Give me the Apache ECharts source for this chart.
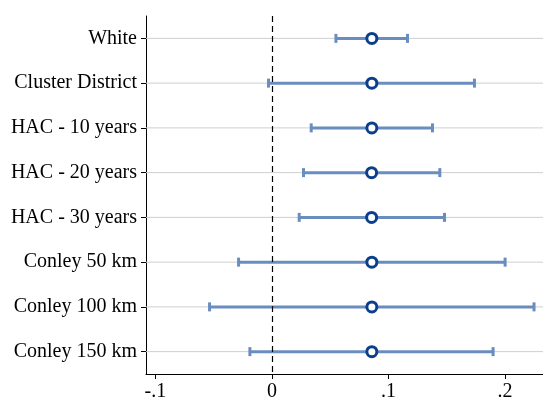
<!DOCTYPE html>
<html>
<head>
<meta charset="utf-8">
<script src="https://cdn.jsdelivr.net/npm/echarts@6/dist/echarts.min.js"></script>
<style>html,body{margin:0;padding:0;background:#fff}#c{width:543px;height:402px}</style>
</head>
<body>
<div id="c"></div>
<script>
const categories = ['White','Cluster District','HAC - 10 years','HAC - 20 years','HAC - 30 years','Conley 50 km','Conley 100 km','Conley 150 km'];
const estimates = [0.0857,0.0857,0.0857,0.0855,0.0855,0.0857,0.0857,0.0857];
const lowerCI = [0.0549,-0.0029,0.0337,0.0271,0.0234,-0.0286,-0.0535,-0.0189];
const upperCI = [0.1163,0.1737,0.1377,0.1440,0.1480,0.2000,0.2248,0.1897];
const xTicks = [-0.1,0,0.1,0.2];
const xTickLabels = ['-.1','0','.1','.2'];

const chart = echarts.init(document.getElementById('c'), null, {renderer:'canvas'});
const font = 'Liberation Serif';
const ciData = categories.map((c,i)=>[lowerCI[i], upperCI[i], i]);
const ptData = categories.map((c,i)=>[estimates[i], i]);

chart.setOption({
  animation:false,
  grid:{left:146, right:0, top:16, bottom:28, containLabel:false},
  xAxis:{
    type:'value', min:-0.108, max:0.2325,
    axisLine:{show:true, onZero:false, lineStyle:{color:'#000', width:1}},
    axisTick:{show:true, length:5, lineStyle:{color:'#000'}, customValues:xTicks},
    axisLabel:{color:'#000', fontFamily:font, fontSize:20, margin:8,
      customValues:xTicks,
      formatter:(v)=>{const i=xTicks.findIndex(t=>Math.abs(t-v)<1e-9); return i>=0?xTickLabels[i]:'';}},
    splitLine:{show:false}
  },
  yAxis:{
    type:'category', data:categories, inverse:true,
    axisLine:{show:true, onZero:false, lineStyle:{color:'#000', width:1}},
    axisTick:{show:true, alignWithLabel:true, length:5, lineStyle:{color:'#000'}},
    axisLabel:{color:'#000', fontFamily:font, fontSize:20, margin:9, padding:[3,0,0,0]},
    splitLine:{show:false}
  },
  series:[
    {
      type:'custom', z:1, silent:true,
      data:categories.map((c,i)=>[i]),
      encode:{y:0},
      renderItem:(params, api)=>{
        const y = api.coord([0, api.value(0)])[1];
        const cs = params.coordSys;
        return {type:'line', shape:{x1:cs.x, y1:y, x2:cs.x+cs.width, y2:y},
          style:{stroke:'#cfcfcf', lineWidth:1}};
      }
    },
    {
      type:'custom', z:3, silent:true,
      data:ciData,
      encode:{x:[0,1], y:2},
      renderItem:(params, api)=>{
        const p1 = api.coord([api.value(0), api.value(2)]);
        const p2 = api.coord([api.value(1), api.value(2)]);
        const h = 4.5;
        const st = {stroke:'#6a8dbf', lineWidth:3};
        return {type:'group', children:[
          {type:'line', shape:{x1:p1[0], y1:p1[1], x2:p2[0], y2:p2[1]}, style:st},
          {type:'line', shape:{x1:p1[0], y1:p1[1]-h, x2:p1[0], y2:p1[1]+h}, style:st},
          {type:'line', shape:{x1:p2[0], y1:p2[1]-h, x2:p2[0], y2:p2[1]+h}, style:st}
        ]};
      }
    },
    {
      type:'scatter', z:5, silent:true,
      data:ptData,
      symbol:'circle', symbolSize:10,
      itemStyle:{color:'#fff', borderColor:'#0b3f8b', borderWidth:3, opacity:1},
      markLine:{
        silent:true, symbol:['none','none'], label:{show:false},
        lineStyle:{color:'#000', type:[6,4], width:1.2},
        data:[{xAxis:0}]
      }
    }
  ]
});
</script>
</body>
</html>
